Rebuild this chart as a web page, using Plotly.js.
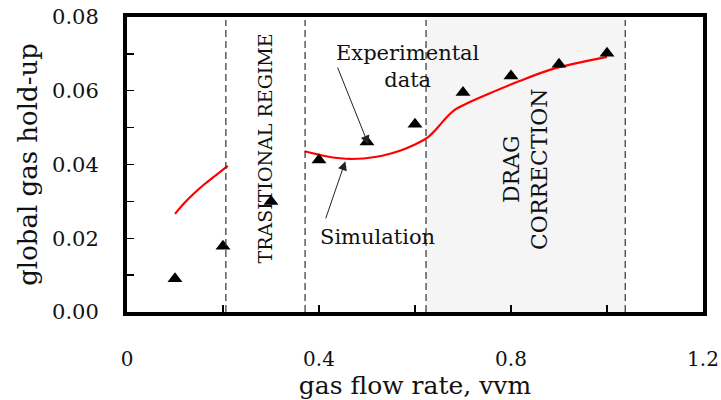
<!DOCTYPE html>
<html>
<head>
<meta charset="utf-8">
<script src="https://cdn.plot.ly/plotly-3.0.1.min.js"></script>
<style>html,body{margin:0;padding:0;background:#fff;}#chart{width:721px;height:400px;}</style>
</head>
<body>
<div id="chart"></div>
<script>
// Experimental data (triangles)
const expX = [0.1, 0.2, 0.3, 0.4, 0.5, 0.6, 0.7, 0.8, 0.9, 1.0];
const expY = [0.009, 0.0178, 0.030, 0.0412, 0.0461, 0.0509, 0.0595, 0.064, 0.0672, 0.0702];

// Simulation, bubbly regime segment
const sim1X = [0.1, 0.12, 0.14, 0.16, 0.18, 0.2, 0.21];
const sim1Y = [0.0266, 0.0296, 0.0322, 0.0345, 0.0366, 0.0386, 0.0396];

// Simulation, heterogeneous regime segment
const sim2X = [0.37, 0.42, 0.465, 0.52, 0.57, 0.6, 0.625, 0.645, 0.665, 0.685, 0.71, 0.75, 0.819, 0.889, 1.0];
const sim2Y = [0.0436, 0.0421, 0.0415, 0.0421, 0.0438, 0.0454, 0.0472, 0.0497, 0.0527, 0.0550, 0.0567, 0.0590, 0.0627, 0.0660, 0.0692];

// Regime boundaries (dashed lines)
const regimeBounds = [0.206, 0.371, 0.623, 1.038];

// Tick labels
const xTickVals = [0, 0.2, 0.4, 0.6, 0.8, 1.0, 1.2];
const xTickText = ['0', '', '0.4', '', '0.8', '', '1.2'];
const yTickVals = [0, 0.01, 0.02, 0.03, 0.04, 0.05, 0.06, 0.07, 0.08];
const yTickText = ['0.00', '', '0.02', '', '0.04', '', '0.06', '', '0.08'];

const FONT = 'DejaVu Serif, serif';

const traces = [
  {x: sim1X, y: sim1Y, mode: 'lines', line: {color: '#ff0000', width: 2.2, shape: 'spline', smoothing: 0.8}, hoverinfo: 'skip'},
  {x: sim2X, y: sim2Y, mode: 'lines', line: {color: '#ff0000', width: 2.2, shape: 'spline', smoothing: 0.8}, hoverinfo: 'skip'},
  {x: expX, y: expY, mode: 'markers', marker: {symbol: 'triangle-up', size: 13, color: '#000'}, hoverinfo: 'skip'}
];

const shapes = [
  {type: 'rect', xref: 'x', yref: 'paper', x0: regimeBounds[2], x1: regimeBounds[3], y0: 0, y1: 1,
   fillcolor: '#f5f5f5', line: {width: 0}, layer: 'below'}
];
regimeBounds.forEach(b => shapes.push({
  type: 'line', xref: 'x', yref: 'paper', x0: b, x1: b, y0: 0, y1: 0.99,
  line: {color: '#333', width: 1.2, dash: '7px,4px'}, layer: 'above'
}));

const annotations = [
  {x: 0.288, y: 0.0444, xref: 'x', yref: 'y', text: 'TRASITIONAL REGIME', textangle: -90, showarrow: false,
   font: {family: FONT, size: 19, color: '#111'}},
  {x: 0.83, y: 0.0389, xref: 'x', yref: 'y', text: 'DRAG<br>CORRECTION', textangle: -90, showarrow: false,
   font: {family: FONT, size: 22, color: '#111'}},
  {x: 0.586, y: 0.0667, xref: 'x', yref: 'y', text: 'Experimental<br>data', showarrow: false,
   font: {family: FONT, size: 21, color: '#111'}},
  {x: 0.522, y: 0.0203, xref: 'x', yref: 'y', text: 'Simulation', showarrow: false,
   font: {family: FONT, size: 21, color: '#111'}},
  {x: 0.503, y: 0.0454, ax: 0.4375, ay: 0.0667, xref: 'x', yref: 'y', axref: 'x', ayref: 'y', text: '',
   showarrow: true, arrowhead: 2, arrowsize: 1.8, arrowwidth: 1, arrowcolor: '#222'},
  {x: 0.455, y: 0.0409, ax: 0.413, ay: 0.025, xref: 'x', yref: 'y', axref: 'x', ayref: 'y', text: '',
   showarrow: true, arrowhead: 2, arrowsize: 1.8, arrowwidth: 1, arrowcolor: '#222'}
];

const layout = {
  width: 721, height: 400,
  margin: {l: 127, r: 18, t: 17, b: 88},
  paper_bgcolor: '#fff', plot_bgcolor: '#fff',
  showlegend: false,
  font: {family: FONT, color: '#111'},
  xaxis: {
    range: [0, 1.2], tickmode: 'array', tickvals: xTickVals, ticktext: xTickText,
    ticks: 'inside', ticklen: 7, tickwidth: 1.3, tickcolor: '#000',
    showline: true, linewidth: 4, linecolor: '#000', mirror: true,
    showgrid: false, zeroline: false, ticklabelstandoff: 26,
    tickfont: {family: FONT, size: 20, color: '#111'},
    title: {text: 'gas flow rate, vvm', font: {family: FONT, size: 25, color: '#111'}, standoff: 15}
  },
  yaxis: {
    range: [0, 0.08], tickmode: 'array', tickvals: yTickVals, ticktext: yTickText,
    ticks: 'inside', ticklen: 7, tickwidth: 1.3, tickcolor: '#000',
    showline: true, linewidth: 4, linecolor: '#000', mirror: true,
    showgrid: false, zeroline: false, ticklabelstandoff: 20,
    tickfont: {family: FONT, size: 21, color: '#111'},
    title: {text: 'global gas hold-up', font: {family: FONT, size: 26, color: '#111'}, standoff: 8}
  },
  shapes: shapes,
  annotations: annotations
};

Plotly.newPlot('chart', traces, layout, {displayModeBar: false, staticPlot: true});
</script>
</body>
</html>
